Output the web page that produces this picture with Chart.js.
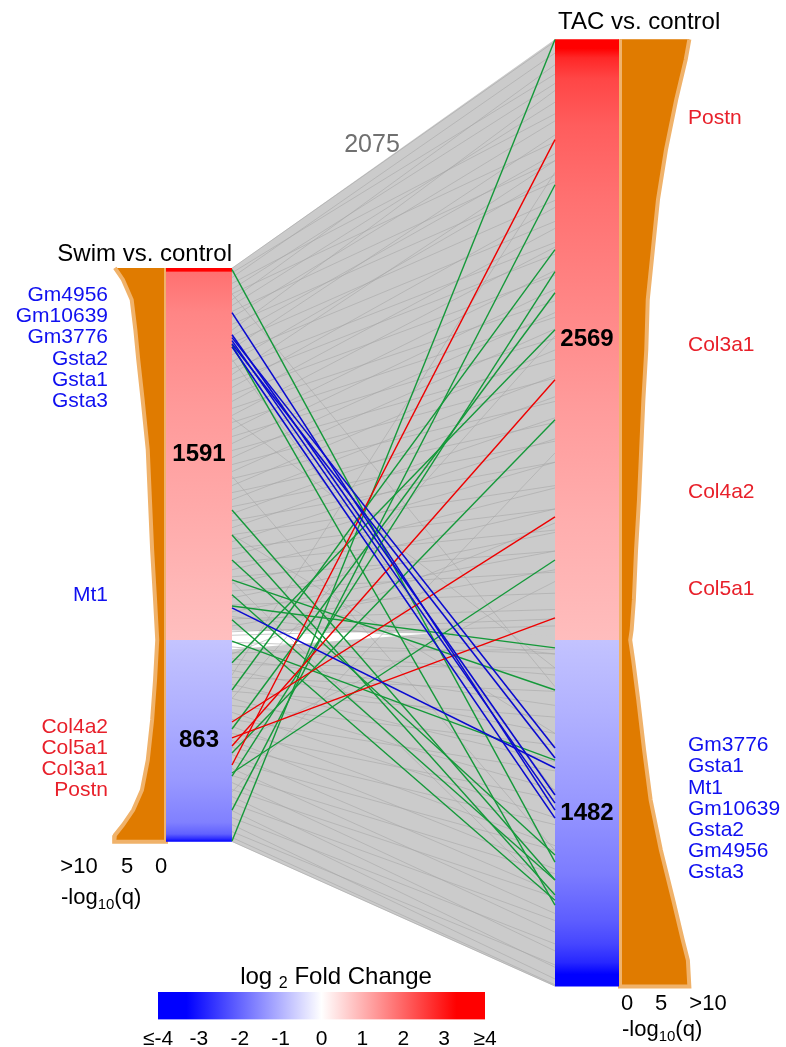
<!DOCTYPE html>
<html>
<head>
<meta charset="utf-8">
<script src="https://cdn.jsdelivr.net/npm/chart.js@4.4.1/dist/chart.umd.min.js"></script>
<style>
  html, body { margin: 0; padding: 0; background: #fff; }
  #wrap { position: relative; width: 786px; height: 1047px; }
  #main { position: absolute; left: 0; top: 0; }
  #cbar { position: absolute; left: 0; top: 986px; }
</style>
</head>
<body>
<div id="wrap">
  <canvas id="main" width="786" height="1047" style="width:786px;height:1047px"></canvas>
  <canvas id="cbar" width="786" height="61" style="width:786px;height:61px"></canvas>
</div>
<script>
const FONT = '"Liberation Sans", Arial, Helvetica, sans-serif';

// gene counts per bar
const swimUp = 1591, swimDown = 863;
const tacUp = 2569, tacDown = 1482;
const sharedCount = 2075;

// layout: x runs in page pixels, y in gene ranks (0 = split between up and down)
const Y_MAX = 2737, Y_MIN = -1741;
const SWIM_BAR = [166, 232];
const TAC_BAR = [555, 619];
const Q_PX = 7.3;

// log2 fold change along each bar
const swimFcRank = [1591, 1578, 1572, 1400, 1000, 600, 200, 0, 0, -300, -600, -780, -830, -850, -863];
const swimFcValue = [3.5, 3.5, 1.85, 1.58, 1.32, 1.12, 0.92, 0.83, -0.76, -1.02, -1.32, -1.65, -2.05, -2.7, -3.5];
const tacFcRank = [2569, 2530, 2490, 2400, 2200, 1900, 1500, 1000, 500, 0, 0, -300, -700, -1000, -1200, -1300, -1380, -1430, -1482];
const tacFcValue = [3.5, 3.4, 2.8, 2.4, 2.1, 1.85, 1.6, 1.3, 1.05, 0.85, -0.78, -1.0, -1.35, -1.7, -2.1, -2.4, -2.8, -3.4, -3.5];

// colour scale
const cmapValue = [-4, -3.3, 0, 3.3, 4];
const cmapRGB = [[0, 0, 255], [0, 0, 255], [255, 255, 255], [255, 0, 0], [255, 0, 0]];
const cbarTicks = [-4, -3, -2, -1, 0, 1, 2, 3, 4];

// -log10(q) profile next to each bar
const swimQRank = [1591, 1541, 1455, 1327, 1198, 1027, 813, 599, 385, 171, 0, -171, -342, -514, -642, -728, -792, -835, -863];
const swimQ = [7.0, 5.9, 4.7, 4.2, 3.8, 3.2, 2.5, 2.2, 1.9, 1.5, 1.2, 1.5, 1.9, 2.5, 3.3, 4.5, 5.9, 7.0, 7.1];
const tacQRank = [2569, 2482, 2311, 2097, 1883, 1669, 1455, 1241, 1027, 813, 599, 385, 171, 43, 0, -86, -257, -471, -685, -899, -1113, -1284, -1370, -1482];
const tacQ = [9.5, 9.0, 7.7, 6.3, 5.2, 4.5, 3.8, 3.6, 3.2, 2.9, 2.6, 2.2, 1.9, 1.6, 1.4, 1.8, 2.5, 3.3, 4.2, 5.6, 7.3, 8.6, 9.3, 9.5];
const qTickLabels = ['>10', '5', '0'];

// highlighted genes
const geneNames = ['Gm4956', 'Gm10639', 'Gm3776', 'Gsta2', 'Gsta1', 'Gsta3', 'Mt1', 'Col4a2', 'Col5a1', 'Col3a1', 'Postn'];
const geneSwimRank = [1400, 1305, 1293, 1280, 1267, 1254, 137, -351, -419, -454, -535];
const geneTacRank = [-728, -663, -462, -698, -505, -762, -548, 526, 94, 1113, 2140];
const geneDown = [true, true, true, true, true, true, true, false, false, false, false];

// other genes shown in green
const greenSwimRank = [1584, 1263, 556, 449, 342, 257, 145, 86, -98, -214, -381, -484, -582, -728, -860, -569, -5, 193];
const greenTacRank = [-950, -1134, -1027, -1091, -920, -214, -34, -1113, 1327, 1669, 1485, 942, 1575, 1947, 2568, 342, -514, -1027];

// shared genes (sample of links)
const graySwimRank = [1590, 1570, 1550, 1525, 1500, 1480, 1455, 1430, 1405, 1380, 1350, 1325, 1300, 1270, 1245, 1220, 1190, 1160, 1135, 1110,
  1080, 1050, 1020, 990, 960, 930, 900, 870, 840, 810, 780, 750, 720, 690, 660, 630, 600, 570, 540, 510,
  480, 450, 420, 390, 360, 330, 300, 270, 240, 210, 180, 150, 120, 90, 60, 35, 20,
  1480, 1200, 950, 700, 450, 250, 100,
  -10, -30, -55, -80, -105, -130, -160, -190, -220, -250, -280, -310, -340, -370, -400, -430, -460, -490, -520, -550,
  -580, -610, -640, -670, -700, -730, -760, -790, -820, -845, -862,
  -60, -250, -450, -650, -150];
const grayTacRank = [2560, 2420, 2510, 2250, 2380, 2130, 2460, 2300, 2050, 2220, 1960, 2350, 2080, 1880, 2160, 1790, 1990, 1700, 2050, 1650,
  1850, 1560, 1760, 1450, 1680, 1380, 1580, 1290, 1500, 1200, 1400, 1120, 1330, 1020, 1240, 930, 1130, 850, 1040, 760,
  950, 660, 860, 560, 760, 470, 650, 380, 560, 290, 460, 200, 380, 130, 300, 90, 60,
  -200, -650, -120, -900, -400, -1100, -60,
  -60, -150, -40, -280, -120, -400, -220, -520, -330, -640, -450, -760, -560, -880, -680, -980, -790, -1080, -900, -1170,
  -1000, -1250, -1100, -1330, -1200, -1400, -1300, -1450, -1390, -1475, -1480,
  500, 1300, 250, 800, 2000];

// outline of the two link bundles
const upperBundleSwim = [swimUp, 40], upperBundleTac = [tacUp, 20];
const lowerBundleSwim = [-40, -swimDown], lowerBundleTac = [70, -tacDown];

// label layout (page y of each gene label, same order as geneNames)
const swimLabelY = [295, 316, 337, 359, 380, 401, 595, 727, 748, 769, 790];
const tacLabelY = [851, 809, 745, 830, 766, 872, 788, 492, 589, 345, 118];

function fcColor(v) {
  v = Math.max(cmapValue[0], Math.min(cmapValue[cmapValue.length - 1], v));
  for (let i = 0; i < cmapValue.length - 1; i++) {
    if (v <= cmapValue[i + 1]) {
      const t = (v - cmapValue[i]) / (cmapValue[i + 1] - cmapValue[i]);
      const a = cmapRGB[i], b = cmapRGB[i + 1];
      const c = a.map((av, k) => Math.round(av + (b[k] - av) * t));
      return `rgb(${c[0]},${c[1]},${c[2]})`;
    }
  }
  return 'rgb(255,0,0)';
}

function barGradient(ranks, values) {
  return (ctx) => {
    const chart = ctx.chart;
    if (!chart.chartArea) return '#ddd';
    const ys = chart.scales.y;
    const top = ys.getPixelForValue(ranks[0]);
    const bot = ys.getPixelForValue(ranks[ranks.length - 1]);
    const g = chart.ctx.createLinearGradient(0, top, 0, bot);
    ranks.forEach((r, i) => {
      g.addColorStop((ys.getPixelForValue(r) - top) / (bot - top), fcColor(values[i]));
    });
    return g;
  };
}

function rectPoints(x0, x1, top, bottom) {
  return [{x: x0, y: top}, {x: x0, y: bottom}, {x: x1, y: bottom}, {x: x1, y: top}];
}

function histPoints(edge, dir, ranks, q) {
  const pts = ranks.map((r, i) => ({x: edge + dir * q[i] * Q_PX, y: r}));
  pts.push({x: edge, y: ranks[ranks.length - 1]}, {x: edge, y: ranks[0]});
  return pts;
}

function bundlePoints(s, t) {
  return [
    {x: SWIM_BAR[1], y: s[0]}, {x: TAC_BAR[0], y: t[0]},
    {x: TAC_BAR[0], y: t[1]}, {x: SWIM_BAR[1], y: s[1]}
  ];
}

function link(s, t) {
  return [{x: SWIM_BAR[1], y: s}, {x: TAC_BAR[0], y: t}];
}

function shape(points, fillColor, order, extra) {
  return Object.assign({
    data: points, fill: 'shape', backgroundColor: fillColor,
    borderWidth: 0, borderColor: 'rgba(0,0,0,0)', pointRadius: 0, order
  }, extra || {});
}

function line(points, color, width, order) {
  return {data: points, fill: false, borderColor: color, borderWidth: width, pointRadius: 0, order};
}

const datasets = [];

// bundles of shared genes
datasets.push(shape(bundlePoints(upperBundleSwim, upperBundleTac), '#cbcbcb', 100));
datasets.push(shape(bundlePoints(lowerBundleSwim, lowerBundleTac), '#cbcbcb', 100));
graySwimRank.forEach((s, i) => datasets.push(line(link(s, grayTacRank[i]), 'rgba(168,168,168,0.85)', 0.7, 90)));

// -log10(q) profiles
datasets.push(shape(histPoints(SWIM_BAR[0], -1, swimQRank, swimQ), '#e07b00', 80,
  {borderColor: '#f0b26a', borderWidth: 4}));
datasets.push(shape(histPoints(TAC_BAR[1] + 1, 1, tacQRank, tacQ), '#e07b00', 80,
  {borderColor: '#f0b26a', borderWidth: 4}));

// fold change bars
datasets.push(shape(rectPoints(SWIM_BAR[0], SWIM_BAR[1], swimUp, -swimDown), barGradient(swimFcRank, swimFcValue), 70));
datasets.push(shape(rectPoints(TAC_BAR[0], TAC_BAR[1], tacUp, -tacDown), barGradient(tacFcRank, tacFcValue), 70));

// highlighted links
greenSwimRank.forEach((s, i) => datasets.push(line(link(s, greenTacRank[i]), '#15993a', 1.4, 30)));
geneNames.forEach((g, i) => {
  if (!geneDown[i]) datasets.push(line(link(geneSwimRank[i], geneTacRank[i]), '#ee0000', 1.4, 20));
});
geneNames.forEach((g, i) => {
  if (geneDown[i]) datasets.push(line(link(geneSwimRank[i], geneTacRank[i]), '#0a0ad0', 1.6, 10));
});

function drawParts(c, parts, x, yBase, align) {
  let w = 0;
  parts.forEach(p => { c.font = `${p[1]}px ${FONT}`; w += c.measureText(p[0]).width; });
  let cx = align === 'center' ? x - w / 2 : align === 'right' ? x - w : x;
  c.textAlign = 'left';
  c.textBaseline = 'alphabetic';
  parts.forEach(p => {
    c.font = `${p[1]}px ${FONT}`;
    c.fillText(p[0], cx, yBase + (p[2] || 0));
    cx += c.measureText(p[0]).width;
  });
}

const textPlugin = {
  id: 'texts',
  afterDraw(chart) {
    const c = chart.ctx;
    const xs = chart.scales.x, ys = chart.scales.y;
    c.save();
    c.fillStyle = '#000';

    // titles
    c.font = `24px ${FONT}`;
    c.textBaseline = 'alphabetic';
    c.textAlign = 'right';
    c.fillText('Swim vs. control', xs.getPixelForValue(SWIM_BAR[1]), ys.getPixelForValue(swimUp) - 7);
    c.textAlign = 'left';
    c.fillText('TAC vs. control', xs.getPixelForValue(TAC_BAR[0]) + 3, ys.getPixelForValue(tacUp) - 10);

    // counts
    c.font = `bold 24px ${FONT}`;
    c.textAlign = 'center';
    c.textBaseline = 'middle';
    const sMid = xs.getPixelForValue((SWIM_BAR[0] + SWIM_BAR[1]) / 2);
    const tMid = xs.getPixelForValue((TAC_BAR[0] + TAC_BAR[1]) / 2);
    c.fillText(String(swimUp), sMid, ys.getPixelForValue(swimUp / 2));
    c.fillText(String(swimDown), sMid, ys.getPixelForValue(-swimDown / 2));
    c.fillText(String(tacUp), tMid, ys.getPixelForValue(tacUp / 2));
    c.fillText(String(tacDown), tMid, ys.getPixelForValue(-tacDown / 2));

    c.font = `25px ${FONT}`;
    c.fillStyle = '#707070';
    c.fillText(String(sharedCount), 372, 145);

    // gene labels
    c.font = `21px ${FONT}`;
    geneNames.forEach((g, i) => {
      c.fillStyle = geneDown[i] ? '#1010f0' : '#e8202a';
      c.textAlign = 'right';
      c.fillText(g, 108, swimLabelY[i]);
      c.textAlign = 'left';
      c.fillText(g, 688, tacLabelY[i]);
    });

    // -log10(q) axes
    c.fillStyle = '#000';
    c.font = `22px ${FONT}`;
    c.textAlign = 'center';
    c.textBaseline = 'alphabetic';
    [79, 127, 161].forEach((x, i) => c.fillText(qTickLabels[i], x, 873));
    [708, 661, 627].forEach((x, i) => c.fillText(qTickLabels[i], x, 1010));
    const qTitle = [['-log', 22], ['10', 15, 5], ['(q)', 22]];
    drawParts(c, qTitle, 61, 904, 'left');
    drawParts(c, qTitle, 622, 1036, 'left');

    // colour bar title
    drawParts(c, [['log ', 24], ['2', 16, 4], [' Fold Change', 24]], 336, 984, 'center');
    c.restore();
  }
};

new Chart(document.getElementById('main'), {
  type: 'line',
  data: {datasets},
  options: {
    responsive: false,
    animation: false,
    events: [],
    layout: {padding: 0},
    elements: {line: {tension: 0}, point: {radius: 0}},
    plugins: {legend: {display: false}, tooltip: {enabled: false}},
    scales: {
      x: {type: 'linear', min: 0, max: 786, display: false},
      y: {type: 'linear', min: Y_MIN, max: Y_MAX, display: false}
    }
  },
  plugins: [textPlugin]
});

// colour bar
new Chart(document.getElementById('cbar'), {
  type: 'bar',
  data: {
    labels: [''],
    datasets: [{
      data: [[cbarTicks[0], cbarTicks[cbarTicks.length - 1]]],
      backgroundColor: (ctx) => {
        const chart = ctx.chart;
        if (!chart.chartArea) return '#ddd';
        const xs = chart.scales.x;
        const x0 = xs.getPixelForValue(cmapValue[0]);
        const x1 = xs.getPixelForValue(cmapValue[cmapValue.length - 1]);
        const g = chart.ctx.createLinearGradient(x0, 0, x1, 0);
        cmapValue.forEach((v, i) => g.addColorStop((xs.getPixelForValue(v) - x0) / (x1 - x0), fcColor(v)));
        return g;
      },
      borderWidth: 0,
      barPercentage: 1,
      categoryPercentage: 1
    }]
  },
  options: {
    indexAxis: 'y',
    responsive: false,
    animation: false,
    events: [],
    layout: {padding: {left: 158, right: 301, top: 6, bottom: 0}},
    plugins: {legend: {display: false}, tooltip: {enabled: false}},
    scales: {
      x: {
        type: 'linear', min: -4, max: 4,
        grid: {display: false, drawTicks: false},
        border: {display: false},
        afterBuildTicks: (scale) => { scale.ticks = cbarTicks.map(v => ({value: v})); },
        ticks: {
          autoSkip: false, maxRotation: 0, padding: 7, color: '#000',
          font: {family: FONT, size: 21},
          callback: (v) => v === -4 ? '≤-4' : v === 4 ? '≥4' : String(v)
        }
      },
      y: {display: false}
    }
  }
});
</script>
</body>
</html>
